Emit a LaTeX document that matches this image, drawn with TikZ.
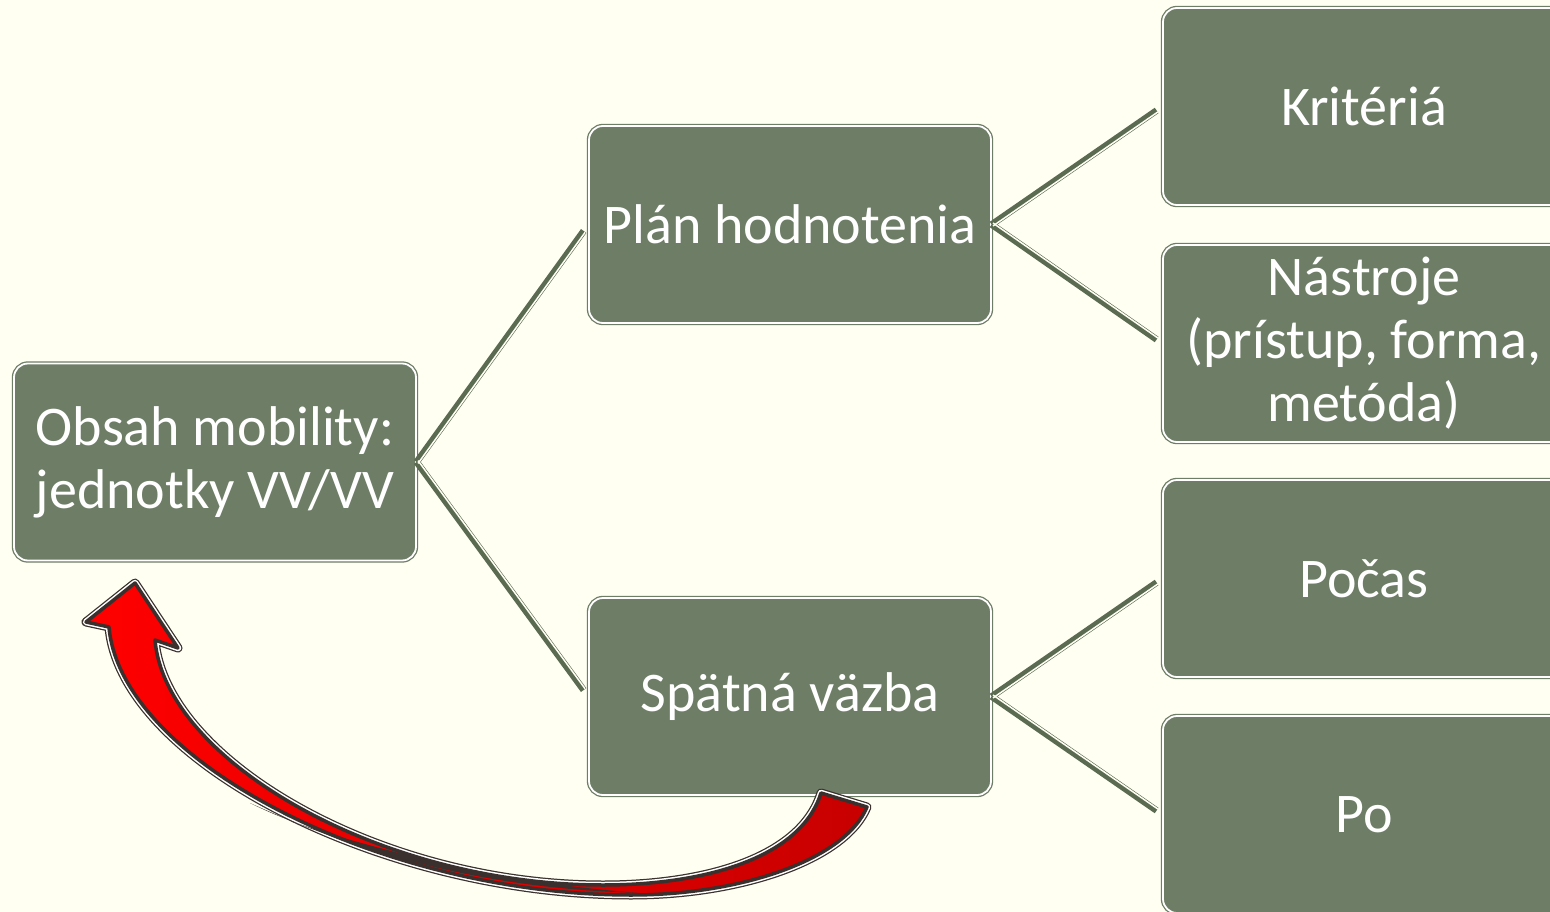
\documentclass[tikz,border=0pt]{standalone}
\usepackage{fontspec}
\setmainfont{Carlito}
\definecolor{bgcream}{HTML}{FFFFF2}
\definecolor{boxgreen}{HTML}{6E7D66}
\definecolor{conngreen}{HTML}{5B6B52}
\definecolor{arrowred}{HTML}{FF0000}
\definecolor{arrowdeep}{HTML}{C80000}
\definecolor{arrowline}{HTML}{3A302D}
\tikzset{
  box/.style={rectangle, rounded corners=14, fill=boxgreen, draw=boxgreen,
    double=white, double distance=1.8, line width=1.3,
    minimum width=402, minimum height=197, inner sep=0, text=white,
    align=center, font=\fontsize{56}{63}\selectfont},
  conn/.style={draw=conngreen, line width=6.6},
  connlight/.style={draw=bgcream, line width=1.5},
  bigarrow/.style={left color=arrowred, right color=arrowdeep, draw=arrowline,
    line width=3.5, line join=round,
    preaction={draw=arrowline, line width=9, line join=round},
    preaction={draw=white, line width=6.5, line join=round}},
  twist/.style={fill=arrowline}
}
\begin{document}
\begin{tikzpicture}[x=1pt, y=-1pt]
\fill[bgcream] (0,0) rectangle (1550,912);
\useasboundingbox (0,0) rectangle (1550,912);

\node[box] (obsah) at (215,462) {Obsah mobility:\\jednotky VV/VV};
\node[box] (plan)  at (790,224.5) {Plán hodnotenia};
\node[box] (spat)  at (790,696.5) {Spätná väzba};
\node[box] (krit)  at (1364,106.5) {Kritériá};
\node[box] (nast)  at (1364,343.5) {Nástroje\\(prístup, forma,\\metóda)};
\node[box] (pocas) at (1364,578.5) {Počas};
\node[box] (po)    at (1364,814.5) {Po};

% connector bodies
\draw[conn, shorten >=8] (obsah.east) -- (plan.west);
\draw[conn, shorten >=8] (obsah.east) -- (spat.west);
\draw[conn, shorten >=7] (plan.east) -- (krit.west);
\draw[conn, shorten >=7] (plan.east) -- (nast.west);
\draw[conn, shorten >=7] (spat.east) -- (pocas.west);
\draw[conn, shorten >=7] (spat.east) -- (po.west);
% light inner stripes (upward branches)
\begin{scope}[transform canvas={shift={(1.4pt,-1.4pt)}}]
\draw[connlight, shorten >=8] (obsah.east) -- (plan.west);
\draw[connlight, shorten >=7] (plan.east) -- (krit.west);
\draw[connlight, shorten >=7] (spat.east) -- (pocas.west);
\end{scope}
% light inner stripes (downward branches)
\begin{scope}[transform canvas={shift={(1.4pt,1.4pt)}}]
\draw[connlight, shorten >=8] (obsah.east) -- (spat.west);
\draw[connlight, shorten >=7] (plan.east) -- (nast.west);
\draw[connlight, shorten >=7] (spat.east) -- (po.west);
\end{scope}

\path[bigarrow]
  (821,793) .. controls (800,860) and (700,885) .. (603,885)
  .. controls (380,885) and (165,760) .. (155,640)
  -- (178,648) -- (135,583) -- (86,622) -- (109,627)
  .. controls (120,760) and (380,895) .. (631,895)
  .. controls (740,895) and (845,860) .. (867,807)
  -- cycle;
\path[twist] (250,803) .. controls (380,862) and (500,889) .. (640,893)
  .. controls (560,887) and (470,873) .. (410,856)
  .. controls (350,840) and (300,828) .. (250,803) -- cycle;
\end{tikzpicture}
\end{document}
